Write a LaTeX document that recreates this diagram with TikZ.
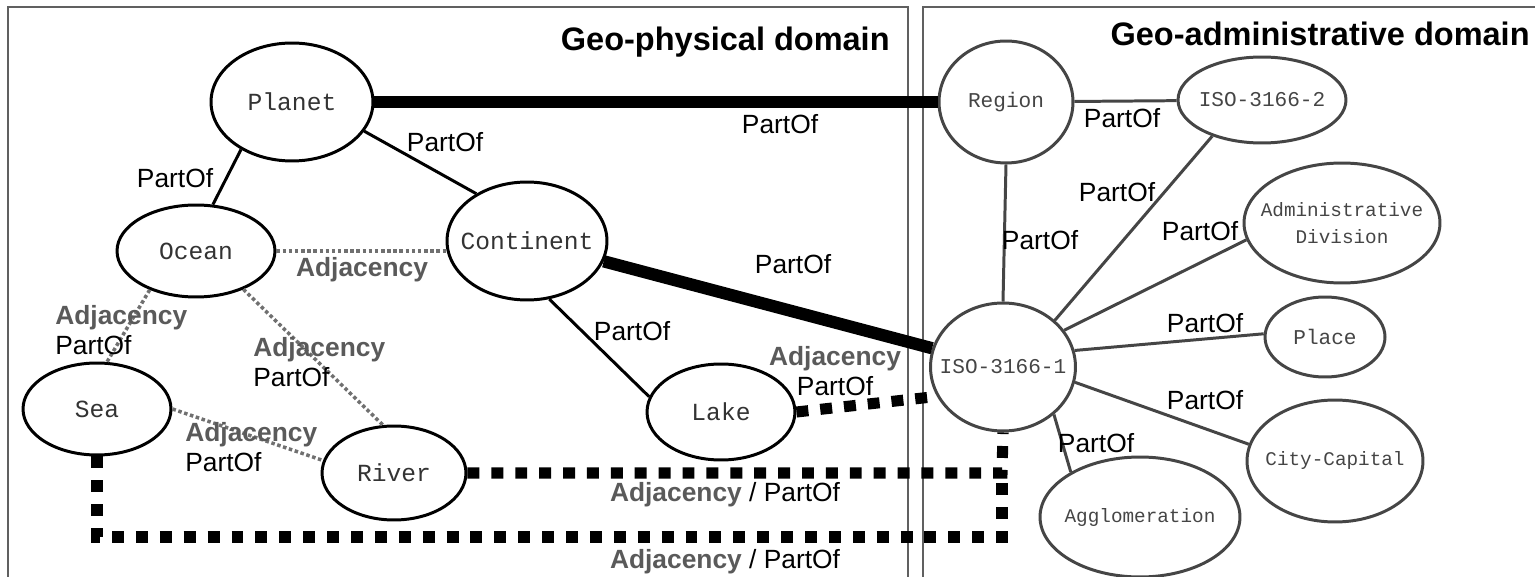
\documentclass[tikz,border=0pt]{standalone}
\usepackage{fontspec}
\setmainfont{Liberation Sans}
\newfontfamily\conceptfont{Liberation Mono}
\usetikzlibrary{shapes.geometric}
\definecolor{framegray}{HTML}{606060}
\definecolor{admgray}{HTML}{454545}
\definecolor{adjgray}{HTML}{5A5A5A}
\definecolor{dotgray}{HTML}{707070}
\begin{document}
\begin{tikzpicture}[x=0.02cm,y=-0.02cm,
  geo/.style={draw,ellipse,line width=1.7pt,inner xsep=-8pt,inner ysep=0pt,align=center,text=black!80,font=\conceptfont\fontsize{14}{15}\selectfont},
  adm/.style={geo,draw=admgray,text=admgray,font=\conceptfont\fontsize{12}{15}\selectfont},
  small/.style={font=\conceptfont\fontsize{11}{15}\selectfont},
  lab/.style={inner sep=0pt,font=\fontsize{15}{17}\selectfont},
  adj/.style={inner sep=0pt,text=adjgray,font=\bfseries\fontsize{15}{17}\selectfont},
  title/.style={inner sep=0pt,anchor=east,font=\bfseries\fontsize{18.5}{20}\selectfont},
  partline/.style={line width=1.7pt},
  admline/.style={line width=1.7pt,draw=admgray},
  strongline/.style={line width=7pt},
  adjline/.style={line width=2pt,draw=dotgray,dash pattern=on 2pt off 1.5pt},
  sqline/.style={line width=6.3pt,dash pattern=on 6.8pt off 6.8pt}]
\useasboundingbox (0,0) rectangle (1535,577);
% domains
\draw[framegray,line width=0.9pt] (8,7) rectangle (908,600);
\draw[framegray,line width=0.9pt] (923,7) rectangle (1560,600);
\node[title] (phys) at (890,42) {Geo-physical domain};
\node[title] (adms) at (1530,34) {Geo-administrative domain};
% geo-physical concepts
\node[geo,minimum width=3.24cm,minimum height=2.36cm] (planet) at (292,102) {Planet};
\node[geo,minimum width=3.16cm,minimum height=1.84cm] (ocean) at (196,251) {Ocean};
\node[geo,minimum width=3.2cm,minimum height=2.36cm] (continent) at (527,241) {Continent};
\node[geo,minimum width=2.96cm,minimum height=1.84cm] (sea) at (97,409) {Sea};
\node[geo,minimum width=2.88cm,minimum height=1.88cm] (river) at (394,473) {River};
\node[geo,minimum width=2.96cm,minimum height=1.92cm] (lake) at (721,412) {Lake};
% geo-administrative concepts
\node[adm,minimum width=2.68cm,minimum height=2.44cm] (region) at (1006,102) {Region};
\node[adm,minimum width=3.36cm,minimum height=1.72cm] (isotwo) at (1262,100) {ISO-3166-2};
\node[adm,small,minimum width=3.92cm,minimum height=2.4cm] (admdiv) at (1342,223) {Administrative\\Division};
\node[adm,minimum width=2.9cm,minimum height=2.56cm] (isoone) at (1003,367) {ISO-3166-1};
\node[adm,minimum width=2.4cm,minimum height=1.6cm] (place) at (1325,337) {Place};
\node[adm,small,minimum width=3.52cm,minimum height=2.44cm] (city) at (1335,461) {City-Capital};
\node[adm,small,minimum width=4cm,minimum height=2.4cm] (agglo) at (1140,517) {Agglomeration};
% links between domains
\draw[strongline] (planet) -- (region);
\draw[strongline] (continent) -- (isoone);
\draw[sqline] (lake.east) -- (isoone.204);
\coordinate (joint) at (1002,473);
\coordinate (low) at (1002,537);
\draw[sqline] (river.east) -- (joint) -- (isoone.south);
\draw[sqline] (sea.south) |- (low) -- (joint);
% geo-physical links
\draw[partline] (planet.223) -- (ocean.70);
\draw[partline] (planet.338) -- (continent.137);
\draw[partline] (continent.291) -- (lake.168);
\draw[adjline] (ocean.east) -- (continent.west |- ocean.east);
\draw[adjline] (ocean.220) -- (sea.78);
\draw[adjline] (ocean.321) -- (river.103);
\draw[adjline] (sea.east) -- (river.170);
% geo-administrative links
\draw[admline] (region) -- (isotwo);
\draw[admline] (region.south) -- (isoone.north);
\draw[admline] (isotwo.216) -- (isoone.42);
\draw[admline] (admdiv.190) -- (isoone.31);
\draw[admline] (place.177) -- (isoone.13);
\draw[admline] (city.169) -- (isoone.348);
\draw[admline] (agglo.147) -- (isoone.317);
% labels
\node[lab] (l1) at (780,124) {PartOf};
\node[lab] (l2) at (175,178) {PartOf};
\node[lab] (l3) at (445,142) {PartOf};
\node[adj] (l4) at (362,270) {Adjacency};
\node[lab] (l5) at (793,264) {PartOf};
\node[lab] (l6) at (632,331) {PartOf};
\node[lab,align=left,anchor=west] (l7) at (55,330) {\textcolor{adjgray}{\bfseries Adjacency}\\PartOf};
\node[lab,align=left,anchor=west] (l8) at (253,362) {\textcolor{adjgray}{\bfseries Adjacency}\\PartOf};
\node[lab,align=left,anchor=west] (l9) at (185,447) {\textcolor{adjgray}{\bfseries Adjacency}\\PartOf};
\node[lab,align=center] (l10) at (835,371) {\textcolor{adjgray}{\bfseries Adjacency}\\PartOf};
\node[lab] (l11) at (725,495) {\textcolor{adjgray}{\bfseries Adjacency} / PartOf};
\node[lab] (l12) at (725,562) {\textcolor{adjgray}{\bfseries Adjacency} / PartOf};
\node[lab] (l13) at (1122,118) {PartOf};
\node[lab] (l14) at (1040,240) {PartOf};
\node[lab] (l15) at (1117,192) {PartOf};
\node[lab] (l16) at (1200,231) {PartOf};
\node[lab] (l17) at (1205,323) {PartOf};
\node[lab] (l18) at (1205,400) {PartOf};
\node[lab] (l19) at (1096,443) {PartOf};
\end{tikzpicture}
\end{document}
